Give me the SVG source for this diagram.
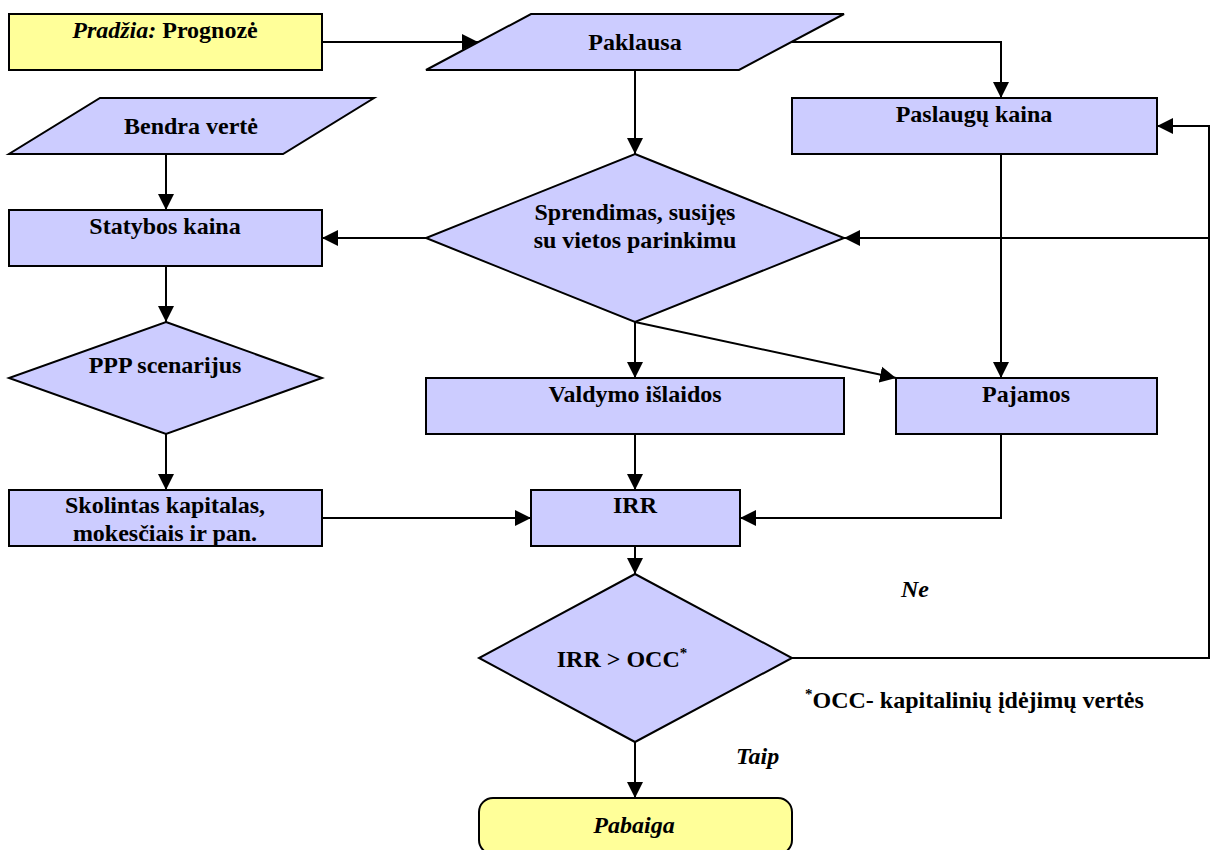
<svg xmlns="http://www.w3.org/2000/svg" width="1210" height="850" viewBox="0 0 1210 850">
<style>
.s{stroke:#000;stroke-width:2;stroke-linejoin:miter}
.b{fill:#ccccff}
.y{fill:#ffff99}
.c{fill:none;stroke:#000;stroke-width:2}
text{font-family:"Liberation Serif","Times New Roman",serif;font-size:24px;font-weight:bold;fill:#000;text-anchor:middle}
.i{font-style:italic}
.l{text-anchor:start}
</style>
<defs><marker id="a" markerUnits="userSpaceOnUse" markerWidth="17" markerHeight="18" refX="16" refY="9" orient="auto"><path d="M0,1L16,9L0,17Z" fill="#000"/></marker></defs>
<rect width="1210" height="850" fill="#fff"/>
<g id="start"><rect class="s y" x="9" y="14" width="313" height="56"/><text x="165" y="38"><tspan class="i">Pradžia:</tspan> Prognozė</text></g>
<g id="paklausa"><polygon class="s b" points="531,14 844,14 739,70 426,70"/><text x="635" y="50">Paklausa</text></g>
<g id="bendra"><polygon class="s b" points="100,98 374,98 283,154 9,154"/><text x="191" y="134">Bendra vertė</text></g>
<g id="paslaugu"><rect class="s b" x="792" y="98" width="365" height="56"/><text x="974" y="122">Paslaugų kaina</text></g>
<g id="statybos"><rect class="s b" x="9" y="210" width="313" height="56"/><text x="165" y="234">Statybos kaina</text></g>
<g id="sprendimas"><polygon class="s b" points="635,154 844,238 635,322 426,238"/><text x="635" y="220">Sprendimas, susijęs</text><text x="635" y="248">su vietos parinkimu</text></g>
<g id="ppp"><polygon class="s b" points="166,322 322,378 166,434 9,378"/><text x="165" y="373">PPP scenarijus</text></g>
<g id="valdymo"><rect class="s b" x="426" y="378" width="418" height="56"/><text x="635" y="402">Valdymo išlaidos</text></g>
<g id="pajamos"><rect class="s b" x="896" y="378" width="261" height="56"/><text x="1026" y="402">Pajamos</text></g>
<g id="skolintas"><rect class="s b" x="9" y="490" width="313" height="56"/><text x="165" y="513">Skolintas kapitalas,</text><text x="165" y="541">mokesčiais ir pan.</text></g>
<g id="irr"><rect class="s b" x="531" y="490" width="209" height="56"/><text x="635" y="513">IRR</text></g>
<g id="irrocc"><polygon class="s b" points="635,574 792,658 635,742 479,658"/><text x="622" y="667">IRR &gt; OCC<tspan font-size="15" dy="-9">*</tspan></text></g>
<g id="pabaiga"><rect class="s y" x="479" y="798" width="313" height="56" rx="14"/><text class="i" x="634" y="833">Pabaiga</text></g>
<g id="connectors">
<path class="c" marker-end="url(#a)" d="M322,42H478"/>
<path class="c" marker-end="url(#a)" d="M792,42H1001V98"/>
<path class="c" marker-end="url(#a)" d="M635,70V154"/>
<path class="c" marker-end="url(#a)" d="M166,154V210"/>
<path class="c" marker-end="url(#a)" d="M426,238H322"/>
<path class="c" marker-end="url(#a)" d="M166,266V322"/>
<path class="c" marker-end="url(#a)" d="M166,434V490"/>
<path class="c" marker-end="url(#a)" d="M635,322V378"/>
<path class="c" marker-end="url(#a)" d="M635,322L896,378"/>
<path class="c" marker-end="url(#a)" d="M1001,154V378"/>
<path class="c" marker-end="url(#a)" d="M635,434V490"/>
<path class="c" marker-end="url(#a)" d="M322,518H531"/>
<path class="c" marker-end="url(#a)" d="M1001,434V518H740"/>
<path class="c" marker-end="url(#a)" d="M635,546V574"/>
<path class="c" marker-end="url(#a)" d="M635,742V798"/>
<path class="c" marker-end="url(#a)" d="M792,658H1209V126H1157"/>
<path class="c" marker-end="url(#a)" d="M1209,238H844"/>
</g>
<g id="labels">
<text class="i l" x="901" y="597">Ne</text>
<text class="i l" x="736" y="764">Taip</text>
<text class="l" x="805" y="708"><tspan font-size="15" dy="-9">*</tspan><tspan dy="9">OCC- kapitalinių įdėjimų vertės</tspan></text>
</g>
</svg>
